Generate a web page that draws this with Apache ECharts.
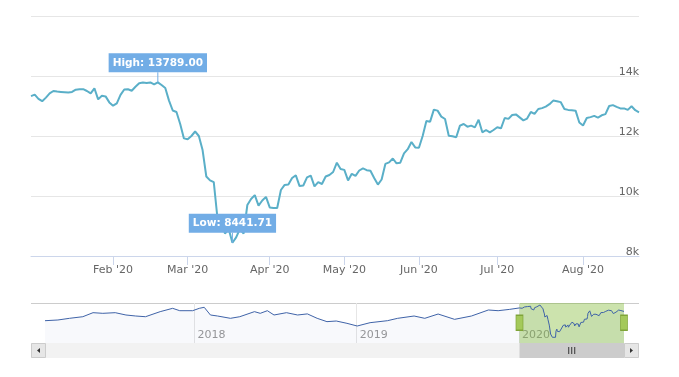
<!DOCTYPE html>
<html>
<head>
<meta charset="utf-8">
<script src="https://cdn.jsdelivr.net/npm/echarts@6/dist/echarts.min.js"></script>
<style>
  html, body { margin: 0; padding: 0; background: #fff; }
  #chart { width: 679px; height: 377px; }
</style>
</head>
<body>
<div id="chart"></div>
<script>
// daily closes, 2020 (trading days from 2 Jan)
const closeValues = [
  13330, 13380, 13240, 13160, 13280, 13420, 13500, 13480, 13470, 13460,
  13450, 13470, 13545, 13560, 13560, 13500, 13420, 13590, 13220, 13340,
  13320, 13120, 13010, 13090, 13370, 13550, 13560, 13510, 13640, 13760,
  13780, 13765, 13785, 13720, 13789, 13700, 13600, 13180, 12850, 12800,
  12400, 11920, 11890, 12000, 12150, 12000, 11530, 10650, 10520, 10460,
  9250, 9200, 8750, 8900, 8441.71, 8620, 8900, 8750, 9700, 9900,
  10030, 9680, 9850, 9970, 9620, 9600, 9600, 10200, 10370, 10380,
  10600, 10690, 10330, 10350, 10620, 10680, 10320, 10460, 10400, 10650,
  10700, 10800, 11110, 10900, 10870, 10520, 10740, 10670, 10850, 10920,
  10860, 10840, 10600, 10380, 10550, 11070, 11120, 11250, 11090, 11110,
  11420, 11560, 11800, 11620, 11610, 12000, 12500, 12478, 12878, 12845,
  12645, 12567, 12011, 11989, 11956, 12345, 12400, 12311, 12345, 12289,
  12544, 12122, 12200, 12122, 12200, 12290, 12256, 12600, 12570, 12700,
  12720, 12620, 12520, 12580, 12800, 12740, 12900, 12930, 12980, 13060,
  13180, 13160, 13130, 12900, 12870, 12860, 12845, 12450, 12350, 12600,
  12630, 12670, 12610, 12690, 12730, 13000, 13030, 12970, 12920, 12920,
  12870, 12990, 12860, 12790
];
const holidays = ["2020-04-10", "2020-04-13", "2020-05-01", "2020-06-01"];

// older history, only seen in the navigator
const historyDates = [
  "2017-01-30", "2017-02-28", "2017-03-26", "2017-04-25", "2017-05-18", "2017-06-09",
  "2017-07-07", "2017-07-31", "2017-08-22", "2017-09-13", "2017-10-16", "2017-11-13",
  "2017-11-29", "2017-12-28", "2018-01-12", "2018-01-23", "2018-02-06", "2018-02-22",
  "2018-03-23", "2018-04-13", "2018-05-16", "2018-05-29", "2018-06-14", "2018-06-29",
  "2018-07-27", "2018-08-21", "2018-09-12", "2018-10-04", "2018-10-26", "2018-11-16",
  "2018-12-10", "2019-01-02", "2019-01-31", "2019-03-11", "2019-04-03", "2019-05-10",
  "2019-06-03", "2019-07-03", "2019-08-09", "2019-09-16", "2019-10-24", "2019-11-15",
  "2019-12-10"
];
const historyValues = [
  11340, 11450, 11710, 11960, 12590, 12490,
  12590, 12230, 12070, 11960, 12750, 13270,
  12900, 12900, 13270, 13430, 12230, 12070,
  11710, 11960, 12750, 12490, 12900, 12230,
  12590, 12230, 12400, 11710, 11190, 11290,
  10930, 10510, 11030, 11340, 11710, 12070,
  11710, 12380, 11550, 12070, 13010, 12900,
  13100
];
const yearStarts = ["2018-01-01", "2019-01-01", "2020-01-01"];
const monthNames = ["Jan", "Feb", "Mar", "Apr", "May", "Jun", "Jul", "Aug", "Sep", "Oct", "Nov", "Dec"];

const pad = (n) => (n < 10 ? "0" + n : "" + n);
const tradingDates = (() => {
  const out = [];
  const d = new Date(2020, 0, 2);
  while (out.length < closeValues.length) {
    const s = d.getFullYear() + "-" + pad(d.getMonth() + 1) + "-" + pad(d.getDate());
    const wd = d.getDay();
    if (wd !== 0 && wd !== 6 && holidays.indexOf(s) < 0) out.push(s);
    d.setDate(d.getDate() + 1);
  }
  return out;
})();

const toTime = (s) => {
  const p = s.split("-").map(Number);
  return new Date(p[0], p[1] - 1, p[2]).getTime();
};
const isMonthStart = (i) => i > 0 && tradingDates[i].slice(5, 7) !== tradingDates[i - 1].slice(5, 7);
const fmtMonth = (v) => monthNames[Number(v.slice(5, 7)) - 1] + " '" + v.slice(2, 4);

const font = "DejaVu Sans";
const lineColor = "#5aafc8";
const flagColor = "#72ade6";
const firstDay = tradingDates[0];
const lastDay = tradingDates[tradingDates.length - 1];

const navData = historyDates.map((d, i) => [toTime(d), historyValues[i]])
  .concat(tradingDates.map((d, i) => [toTime(d), closeValues[i]]));

const chart = echarts.init(document.getElementById("chart"));

const option = {
  animation: false,
  backgroundColor: "#fff",
  textStyle: { fontFamily: font },
  grid: [
    { left: 31, right: 40, top: 16, bottom: 121 },
    { left: 45, right: 55, top: 303, height: 40 },
  ],
  xAxis: [
    {
      type: "category",
      data: tradingDates,
      boundaryGap: false,
      axisLine: { lineStyle: { color: "#ccd6eb" } },
      axisTick: { show: true, interval: isMonthStart, length: 9, lineStyle: { color: "#ccd6eb" } },
      axisLabel: { interval: isMonthStart, formatter: fmtMonth, color: "#666", fontSize: 11, margin: 9 },
      splitLine: { show: false },
    },
    {
      // navigator axis: timestamps on a value scale, ticks only at year starts
      type: "value",
      gridIndex: 1,
      min: toTime(historyDates[0]),
      max: toTime(lastDay),
      axisLine: { show: false },
      axisTick: {
        show: true, inside: true, length: 40,
        customValues: yearStarts.map(toTime),
        lineStyle: { color: "#e6e6e6" },
      },
      axisLabel: {
        show: true, inside: true, margin: 2,
        customValues: yearStarts.map(toTime),
        formatter: (v) => String(new Date(v).getFullYear()),
        color: "#999", fontSize: 11, align: "left", padding: [0, 0, 0, 3],
      },
      splitLine: { show: false },
    },
  ],
  yAxis: [
    {
      type: "value",
      position: "right",
      min: 8000,
      max: 16000,
      interval: 2000,
      axisLine: { show: false },
      axisTick: { show: false },
      splitLine: { lineStyle: { color: "#e6e6e6" } },
      axisLabel: {
        inside: true, margin: 0, verticalAlign: "bottom",
        color: "#666", fontSize: 11, padding: [0, 0, -2, 0],
        formatter: (v) => (v >= 16000 ? "" : v / 1000 + "k"),
      },
    },
    { type: "value", gridIndex: 1, min: 7860, max: 14100, show: false },
  ],
  series: [
    {
      type: "line",
      data: closeValues,
      showSymbol: false,
      lineStyle: { width: 2, color: lineColor },
      itemStyle: { color: lineColor },
      markPoint: {
        symbol: "rect",
        symbolSize: [1, 10],
        symbolOffset: [0, -5],
        itemStyle: { color: flagColor },
        label: {
          show: true,
          position: "top",
          distance: 0,
          formatter: (p) => p.name + ": " + p.value.toFixed(2),
          backgroundColor: flagColor,
          color: "#fff",
          fontWeight: "bold",
          fontSize: 10.5,
          fontFamily: font,
          padding: [4, 4, 4, 4],
        },
        data: [
          { type: "max", name: "High" },
          { type: "min", name: "Low" },
        ],
      },
    },
    {
      type: "line",
      xAxisIndex: 1,
      yAxisIndex: 1,
      data: navData,
      showSymbol: false,
      lineStyle: { width: 1, color: "#3f63a8" },
      itemStyle: { color: "#3f63a8" },
      areaStyle: { color: "rgba(51,92,173,0.05)" },
      markArea: {
        silent: true,
        itemStyle: { color: "rgba(128,184,50,0.4)" },
        data: [[{ xAxis: toTime(firstDay) }, { xAxis: toTime(lastDay) }]],
      },
      markPoint: {
        symbol: "rect",
        symbolSize: [7, 15],
        itemStyle: { color: "#a4c95a", borderColor: "#7fa438", borderWidth: 1 },
        label: { show: false },
        data: [
          { coord: [toTime(firstDay), 11030] },
          { coord: [toTime(lastDay), 11030] },
        ],
      },
    },
  ],
};

chart.setOption(option);

// scrollbar under the navigator, thumb follows the selected range
const x0 = chart.convertToPixel({ xAxisIndex: 1 }, toTime(firstDay));
const x1 = chart.convertToPixel({ xAxisIndex: 1 }, toTime(lastDay));
const sbTop = 343, sbH = 15, sbLeft = 31, sbRight = 639, btn = 14;
const mid = (x0 + x1) / 2;
chart.setOption({
  graphic: [
    { type: "line", shape: { x1: sbLeft, y1: 303.5, x2: sbRight, y2: 303.5 }, style: { stroke: "#cccccc", lineWidth: 1 } },
    { type: "rect", shape: { x: sbLeft, y: sbTop, width: sbRight - sbLeft, height: sbH }, style: { fill: "#f2f2f2" } },
    { type: "rect", shape: { x: x0, y: sbTop, width: x1 - x0, height: sbH }, style: { fill: "#cccccc" } },
    { type: "line", shape: { x1: mid - 3, y1: sbTop + 4, x2: mid - 3, y2: sbTop + 11 }, style: { stroke: "#333", lineWidth: 1 } },
    { type: "line", shape: { x1: mid, y1: sbTop + 4, x2: mid, y2: sbTop + 11 }, style: { stroke: "#333", lineWidth: 1 } },
    { type: "line", shape: { x1: mid + 3, y1: sbTop + 4, x2: mid + 3, y2: sbTop + 11 }, style: { stroke: "#333", lineWidth: 1 } },
    { type: "rect", shape: { x: sbLeft + 0.5, y: sbTop + 0.5, width: btn, height: sbH - 1 }, style: { fill: "#e6e6e6", stroke: "#cccccc" } },
    { type: "polygon", shape: { points: [[sbLeft + 6, sbTop + 7.5], [sbLeft + 9, sbTop + 5], [sbLeft + 9, sbTop + 10]] }, style: { fill: "#333" } },
    { type: "rect", shape: { x: sbRight - btn - 0.5, y: sbTop + 0.5, width: btn, height: sbH - 1 }, style: { fill: "#e6e6e6", stroke: "#cccccc" } },
    { type: "polygon", shape: { points: [[sbRight - 6, sbTop + 7.5], [sbRight - 9, sbTop + 5], [sbRight - 9, sbTop + 10]] }, style: { fill: "#333" } },
  ],
});
</script>
</body>
</html>
